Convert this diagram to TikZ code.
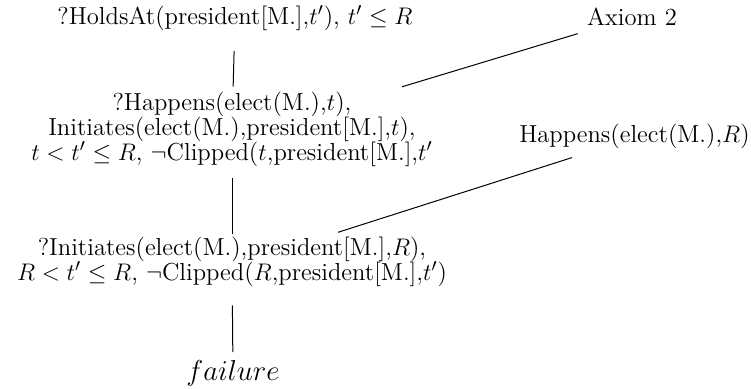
\documentclass[tikz,border=0pt]{standalone}
\usepackage{amsmath}
\usepackage{amssymb}
\usepackage{tikz}
\usetikzlibrary{positioning, calc}
\tikzset{
	goalnode/.style={align=center, inner sep=0pt, font=\fontsize{12.3}{12.5}\selectfont},
	factnode/.style={align=center, inner sep=0pt, anchor=base, font=\fontsize{12.3}{12.5}\selectfont},
	treeline/.style={line width=0.5pt, draw=black},
}

\begin{document}
\begin{tikzpicture}[x=0.5pt, y=-0.5pt]
	\useasboundingbox (0,0) rectangle (751,388);
	% resolution steps
	\node[goalnode, anchor=base] (goal) at (235,24) {?HoldsAt(president[M.],$t'$), $t' \leq R$};
	\node[goalnode] (happ) at (232,129.5) {?Happens(elect(M.),$t$),\\Initiates(elect(M.),president[M.],$t$),\\$t < t' \leq R$, $\neg$Clipped($t$,president[M.],$t'$};
	\node[goalnode] (init) at (232,261.5) {?Initiates(elect(M.),president[M.],$R$),\\$R < t' \leq R$, $\neg$Clipped($R$,president[M.],$t'$)};
	\node[goalnode, anchor=base, font=\fontsize{14.8}{16}\selectfont] (fail) at (233,380) {$failure$};
	% side facts
	\node[factnode] (axiom) at (632,25) {Axiom 2};
	\node[factnode] (occur) at (634.5,142) {Happens(elect(M.),$R$)};
	\draw[treeline, shorten <=10.2pt, shorten >=2.6pt] (goal) -- (happ);
	\draw[treeline, shorten <=5.6pt, shorten >=1.1pt] (happ) -- (init);
	\draw[treeline, shorten <=9.3pt, shorten >=3.7pt] (init) -- (fail);
	\draw[treeline] ($(axiom.south west)+(-9,8)$) -- ($(happ.north)+(170,-5)$);
	\draw[treeline] ($(occur.south)+(-62.5,9)$) -- ($(init.north)+(106,-4)$);
\end{tikzpicture}
\end{document}
